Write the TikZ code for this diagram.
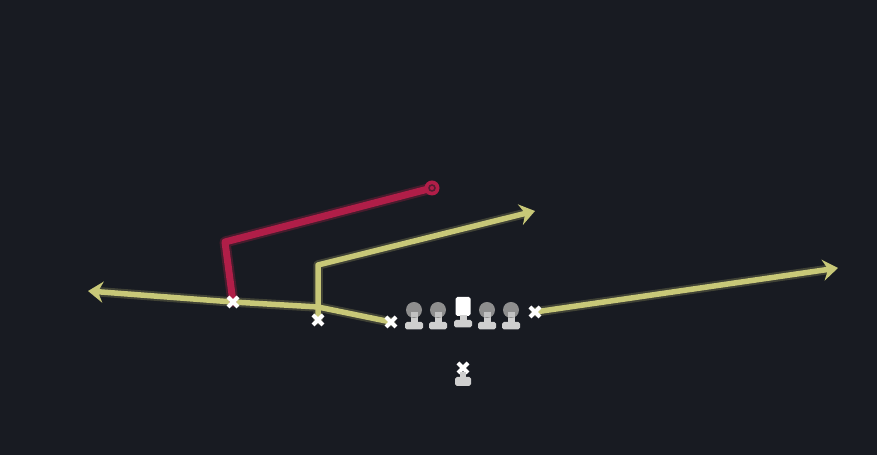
\documentclass[tikz,border=0pt]{standalone}
\usetikzlibrary{arrows.meta}
\definecolor{bg}{HTML}{181B22}
\definecolor{rte}{HTML}{C8C878}
\definecolor{rred}{HTML}{B01E48}
\definecolor{hgray}{HTML}{8E8E8E}
\definecolor{bgray}{HTML}{CFCFCF}
\tikzset{
  route/.style={rte, line width=0.11cm, line join=round, line cap=round},
  routehalo/.style={rte!22!bg, line width=0.19cm, line join=round, line cap=round},
  redroute/.style={rred, line width=0.14cm, line join=round, line cap=round},
  redhalo/.style={rred!30!bg, line width=0.22cm, line join=round, line cap=round},
  tip/.style={-{Stealth[length=0.3cm,width=0.42cm,inset=0.1cm]}},
  xmark/.style={white, line width=0.08cm},
  pics/lineman/.style={code={
    \fill[bgray] (-3.5,-2) rectangle (3.5,6);
    \fill[bgray, rounded corners=1pt] (-9,5) rectangle (9,12.5);
    \fill[hgray] (0,-7) circle (8);
    \fill[bgray!80!hgray] (-3.5,-5) rectangle (3.5,0);
  }},
  pics/centerman/.style={code={
    \fill[white, rounded corners=1pt] (-7.5,-21) rectangle (7.5,-2);
    \fill[bgray] (-3.5,-3) rectangle (3.5,3);
    \fill[bgray, rounded corners=1pt] (-9,2) rectangle (9,9.5);
  }},
  pics/xm/.style={code={
    \draw[xmark] (-5,-5) -- (5,5) (-5,5) -- (5,-5);
  }}
}
\begin{document}
\begin{tikzpicture}[x=0.02cm,y=-0.02cm]
\fill[bg] (0,0) rectangle (877,455);
\useasboundingbox (0,0) rectangle (877,455);
% coordinates
\coordinate (xa) at (233,302);
\coordinate (xb) at (318,320);
\coordinate (xc) at (391,322);
\coordinate (xd) at (535,312);
\coordinate (qb) at (463,368);
\coordinate (bend1) at (318,307);
\coordinate (lefttip) at (88,291);
\coordinate (vtop) at (318,265);
\coordinate (uptip) at (535,211);
\coordinate (righttip) at (838,268);
\coordinate (rbend) at (225,242);
\coordinate (rend) at (432,188);
% halos
\draw[routehalo, shorten >=0.25cm] (xc) -- (bend1) -- (xa) -- (lefttip);
\draw[routehalo, shorten >=0.25cm] (xb) -- (vtop) -- (uptip);
\draw[routehalo, shorten >=0.25cm] (xd) -- (righttip);
\draw[redhalo] (xa) -- (rbend) -- (rend);
% routes
\draw[route, tip] (xc) -- (bend1) -- (xa) -- (lefttip);
\draw[route, tip] (xb) -- (vtop) -- (uptip);
\draw[route, tip] (xd) -- (righttip);
\draw[redroute] (xa) -- (rbend) -- (rend);
\fill[rred] (rend) circle (7.5);
\draw[bg!60!rred, line width=0.03cm] (rend) circle (3);
% players
\pic at (xa) {xm};
\pic at (xb) {xm};
\pic at (xc) {xm};
\pic at (xd) {xm};
\pic at (414,317) {lineman};
\pic at (438,317) {lineman};
\pic at (463,318) {centerman};
\pic at (487,317) {lineman};
\pic at (511,317) {lineman};
\pic at (qb) {xm};
\fill[bgray] (460,372) rectangle (466,378);
\fill[bgray, rounded corners=1pt] (455,377) rectangle (471,386);
\node[inner sep=0] (qbnode) at (qb) {};
\end{tikzpicture}
\end{document}
